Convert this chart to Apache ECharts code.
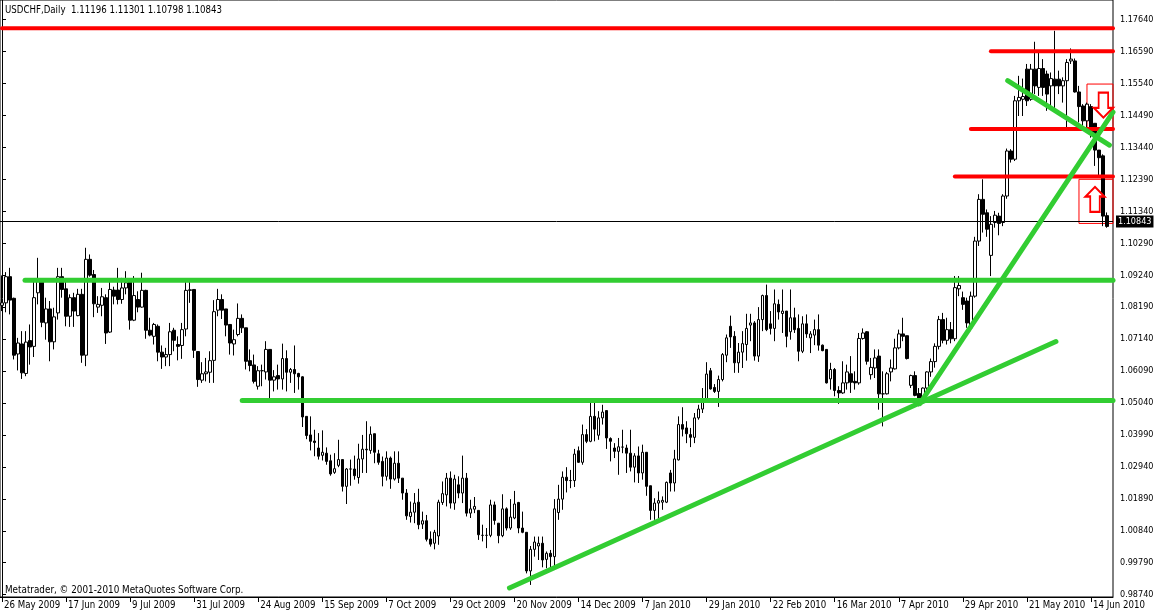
<!DOCTYPE html>
<html><head><meta charset="utf-8">
<script src="https://cdn.jsdelivr.net/npm/echarts@6/dist/echarts.min.js"></script>
<style>html,body{margin:0;padding:0;background:#fff}#c{width:1154px;height:616px}</style>
</head><body><div id="c"></div>
<script>
// ---------- DATA ----------
const symbolTitle = 'USDCHF,Daily';
const headerValues = ['1.11196', '1.11301', '1.10798', '1.10843'];
const copyrightText = 'Metatrader, \u00a9 2001-2010 MetaQuotes Software Corp.';
const startDate = '2009-05-26';
const skippedDays = ['2009-12-25', '2010-01-01'];
const slotCount = 278;          // bar slots on the time axis
const labelEvery = 16;          // a date label every 16 bars
const yTicks = [1.17640, 1.16590, 1.15540, 1.14490, 1.13440, 1.12390, 1.11340, 1.10290, 1.09240,
  1.08190, 1.07140, 1.06090, 1.05040, 1.03990, 1.02940, 1.01890, 1.00840, 0.99790, 0.98740];
const lastPrice = 1.10843;

// daily bars: [open, high, low, close]
const ohlc = [
[1.0825,1.0923,1.0806,1.0833],[1.0833,1.0934,1.0802,1.0919],[1.0919,1.0948,1.0795,1.0842],[1.0848,1.0850,1.0647,1.0661],
[1.0665,1.0718,1.0611,1.0701],[1.0698,1.0740,1.0583,1.0603],[1.0601,1.0740,1.0592,1.0704],[1.0709,1.0762,1.0630,1.0688],
[1.0690,1.0902,1.0655,1.0850],[1.0866,1.0981,1.0828,1.0910],[1.0905,1.0910,1.0753,1.0769],[1.0767,1.0850,1.0712,1.0813],
[1.0813,1.0839,1.0641,1.0705],[1.0705,1.0817,1.0680,1.0787],[1.0800,1.0948,1.0778,1.0919],[1.0919,1.0948,1.0850,1.0877],
[1.0879,1.0910,1.0756,1.0789],[1.0789,1.0861,1.0754,1.0850],[1.0850,1.0866,1.0754,1.0806],[1.0791,1.0879,1.0789,1.0861],
[1.0861,1.0879,1.0636,1.0661],[1.0661,1.1014,1.0625,1.0976],[1.0976,1.0992,1.0919,1.0924],[1.0926,1.0941,1.0786,1.0830],
[1.0819,1.0855,1.0800,1.0828],[1.0825,1.0882,1.0789,1.0853],[1.0850,1.0861,1.0698,1.0734],[1.0737,1.0910,1.0734,1.0877],
[1.0875,1.0886,1.0828,1.0855],[1.0875,1.0948,1.0828,1.0844],[1.0844,1.0915,1.0830,1.0882],[1.0882,1.0937,1.0861,1.0899],
[1.0904,1.0910,1.0745,1.0776],[1.0776,1.0921,1.0773,1.0857],[1.0844,1.0871,1.0802,1.0819],[1.0819,1.0932,1.0817,1.0874],
[1.0874,1.0876,1.0715,1.0743],[1.0743,1.0784,1.0723,1.0727],[1.0723,1.0767,1.0696,1.0762],[1.0756,1.0762,1.0641,1.0671],
[1.0671,1.0693,1.0616,1.0655],[1.0655,1.0685,1.0625,1.0663],[1.0663,1.0767,1.0625,1.0738],[1.0743,1.0751,1.0674,1.0710],
[1.0696,1.0723,1.0644,1.0690],[1.0693,1.0767,1.0649,1.0745],[1.0747,1.0901,1.0723,1.0874],[1.0874,1.0910,1.0833,1.0876],
[1.0877,1.0877,1.0652,1.0677],[1.0673,1.0673,1.0557,1.0581],[1.0579,1.0638,1.0570,1.0600],[1.0600,1.0652,1.0575,1.0606],
[1.0605,1.0674,1.0570,1.0643],[1.0644,1.0842,1.0570,1.0804],[1.0809,1.0879,1.0789,1.0844],[1.0844,1.0861,1.0780,1.0809],
[1.0813,1.0813,1.0723,1.0760],[1.0762,1.0762,1.0663,1.0701],[1.0698,1.0745,1.0660,1.0712],[1.0729,1.0831,1.0723,1.0782],
[1.0782,1.0795,1.0734,1.0751],[1.0751,1.0751,1.0614,1.0641],[1.0643,1.0680,1.0608,1.0627],[1.0629,1.0663,1.0568,1.0575],
[1.0559,1.0625,1.0548,1.0610],[1.0610,1.0630,1.0559,1.0610],[1.0606,1.0707,1.0581,1.0680],[1.0680,1.0680,1.0520,1.0579],
[1.0579,1.0612,1.0542,1.0590],[1.0594,1.0630,1.0548,1.0583],[1.0583,1.0699,1.0548,1.0650],[1.0650,1.0677,1.0542,1.0605],
[1.0605,1.0619,1.0570,1.0614],[1.0614,1.0693,1.0537,1.0600],[1.0601,1.0603,1.0548,1.0590],[1.0590,1.0592,1.0425,1.0458],
[1.0460,1.0460,1.0385,1.0397],[1.0399,1.0460,1.0348,1.0378],[1.0379,1.0416,1.0329,1.0374],[1.0356,1.0405,1.0318,1.0329],
[1.0332,1.0414,1.0315,1.0342],[1.0339,1.0358,1.0301,1.0312],[1.0314,1.0334,1.0265,1.0271],[1.0276,1.0339,1.0271,1.0288],
[1.0299,1.0383,1.0293,1.0318],[1.0318,1.0318,1.0213,1.0230],[1.0230,1.0290,1.0172,1.0287],[1.0287,1.0318,1.0232,1.0287],
[1.0287,1.0331,1.0252,1.0265],[1.0259,1.0370,1.0239,1.0320],[1.0320,1.0399,1.0274,1.0352],[1.0352,1.0444,1.0274,1.0350],
[1.0348,1.0427,1.0337,1.0401],[1.0403,1.0403,1.0306,1.0342],[1.0337,1.0350,1.0301,1.0309],[1.0312,1.0328,1.0230,1.0263],
[1.0263,1.0345,1.0249,1.0323],[1.0323,1.0328,1.0222,1.0254],[1.0254,1.0345,1.0249,1.0306],[1.0306,1.0345,1.0241,1.0257],
[1.0257,1.0257,1.0186,1.0208],[1.0208,1.0221,1.0120,1.0133],[1.0131,1.0180,1.0111,1.0145],[1.0145,1.0208,1.0109,1.0175],
[1.0178,1.0222,1.0089,1.0104],[1.0106,1.0147,1.0090,1.0117],[1.0117,1.0136,1.0049,1.0056],[1.0057,1.0082,1.0032,1.0040],
[1.0043,1.0087,1.0023,1.0079],[1.0067,1.0186,1.0038,1.0178],[1.0177,1.0246,1.0169,1.0206],[1.0202,1.0274,1.0164,1.0257],
[1.0257,1.0279,1.0157,1.0175],[1.0175,1.0268,1.0153,1.0254],[1.0235,1.0263,1.0191,1.0208],[1.0208,1.0331,1.0175,1.0257],
[1.0257,1.0274,1.0131,1.0142],[1.0142,1.0186,1.0126,1.0156],[1.0155,1.0195,1.0142,1.0164],[1.0151,1.0151,1.0054,1.0071],
[1.0069,1.0104,1.0049,1.0069],[1.0069,1.0093,1.0027,1.0069],[1.0069,1.0186,1.0063,1.0169],[1.0169,1.0180,1.0104,1.0118],
[1.0109,1.0109,1.0043,1.0068],[1.0068,1.0204,1.0063,1.0156],[1.0156,1.0161,1.0085,1.0093],[1.0093,1.0188,1.0087,1.0129],
[1.0126,1.0215,1.0122,1.0172],[1.0177,1.0179,1.0076,1.0093],[1.0093,1.0147,1.0076,1.0079],[1.0079,1.0079,0.9944,0.9952],
[0.9952,1.0034,0.9906,1.0023],[1.0023,1.0065,0.9999,1.0047],[1.0034,1.0065,0.9988,1.0043],[1.0043,1.0065,0.9964,0.9988],
[0.9990,1.0016,0.9961,1.0010],[1.0010,1.0021,0.9950,0.9999],[0.9999,1.0188,0.9958,1.0156],[1.0144,1.0235,1.0120,1.0188],
[1.0188,1.0279,1.0153,1.0260],[1.0260,1.0293,1.0210,1.0249],[1.0249,1.0284,1.0224,1.0249],[1.0249,1.0353,1.0228,1.0336],
[1.0347,1.0361,1.0307,1.0309],[1.0309,1.0433,1.0301,1.0400],[1.0400,1.0418,1.0372,1.0378],[1.0378,1.0504,1.0375,1.0460],
[1.0460,1.0504,1.0378,1.0418],[1.0398,1.0477,1.0383,1.0455],[1.0455,1.0498,1.0433,1.0474],[1.0479,1.0479,1.0353,1.0389],
[1.0387,1.0391,1.0312,1.0378],[1.0356,1.0372,1.0323,1.0345],[1.0345,1.0389,1.0268,1.0360],[1.0359,1.0416,1.0339,1.0359],
[1.0356,1.0367,1.0274,1.0339],[1.0339,1.0416,1.0279,1.0293],[1.0293,1.0339,1.0243,1.0330],[1.0330,1.0361,1.0241,1.0274],
[1.0274,1.0367,1.0252,1.0342],[1.0342,1.0342,1.0199,1.0230],[1.0232,1.0232,1.0120,1.0151],[1.0151,1.0191,1.0120,1.0175],
[1.0175,1.0213,1.0125,1.0183],[1.0178,1.0197,1.0153,1.0184],[1.0178,1.0246,1.0175,1.0243],[1.0274,1.0284,1.0213,1.0241],
[1.0241,1.0350,1.0213,1.0320],[1.0317,1.0460,1.0315,1.0433],[1.0433,1.0490,1.0394,1.0418],[1.0422,1.0444,1.0372,1.0403],
[1.0400,1.0422,1.0359,1.0391],[1.0391,1.0471,1.0372,1.0455],[1.0455,1.0498,1.0449,1.0484],[1.0484,1.0553,1.0471,1.0515],
[1.0515,1.0638,1.0509,1.0599],[1.0610,1.0619,1.0548,1.0550],[1.0555,1.0566,1.0537,1.0542],[1.0542,1.0594,1.0491,1.0581],
[1.0581,1.0668,1.0575,1.0663],[1.0661,1.0729,1.0638,1.0718],[1.0756,1.0791,1.0685,1.0721],[1.0723,1.0740,1.0603,1.0636],
[1.0636,1.0701,1.0603,1.0671],[1.0671,1.0740,1.0619,1.0699],[1.0696,1.0797,1.0643,1.0749],[1.0760,1.0797,1.0707,1.0767],
[1.0767,1.0773,1.0643,1.0658],[1.0658,1.0819,1.0639,1.0778],[1.0778,1.0860,1.0740,1.0857],[1.0857,1.0893,1.0740,1.0745],
[1.0764,1.0806,1.0729,1.0749],[1.0749,1.0877,1.0707,1.0830],[1.0828,1.0844,1.0778,1.0803],[1.0798,1.0877,1.0734,1.0806],
[1.0806,1.0806,1.0687,1.0723],[1.0738,1.0877,1.0712,1.0784],[1.0784,1.0817,1.0734,1.0745],[1.0749,1.0795,1.0641,1.0674],
[1.0674,1.0789,1.0668,1.0764],[1.0764,1.0795,1.0718,1.0731],[1.0718,1.0740,1.0668,1.0731],[1.0727,1.0778,1.0694,1.0745],
[1.0745,1.0795,1.0676,1.0694],[1.0694,1.0696,1.0674,1.0676],[1.0680,1.0680,1.0568,1.0570],[1.0583,1.0636,1.0548,1.0614],
[1.0614,1.0619,1.0526,1.0545],[1.0545,1.0559,1.0501,1.0537],[1.0537,1.0641,1.0534,1.0570],[1.0570,1.0630,1.0548,1.0606],
[1.0600,1.0658,1.0537,1.0572],[1.0575,1.0608,1.0548,1.0570],[1.0570,1.0734,1.0564,1.0716],[1.0716,1.0749,1.0712,1.0734],
[1.0738,1.0740,1.0630,1.0641],[1.0597,1.0652,1.0581,1.0621],[1.0619,1.0680,1.0586,1.0652],[1.0658,1.0680,1.0482,1.0534],
[1.0534,1.0608,1.0427,1.0534],[1.0534,1.0606,1.0532,1.0600],[1.0606,1.0647,1.0575,1.0619],[1.0616,1.0715,1.0614,1.0685],
[1.0685,1.0745,1.0680,1.0731],[1.0731,1.0784,1.0707,1.0723],[1.0725,1.0725,1.0647,1.0650],[1.0562,1.0597,1.0553,1.0594],
[1.0594,1.0608,1.0526,1.0529],[1.0535,1.0553,1.0493,1.0509],[1.0509,1.0555,1.0504,1.0553],[1.0553,1.0608,1.0542,1.0606],
[1.0606,1.0650,1.0590,1.0640],[1.0640,1.0700,1.0620,1.0690],[1.0690,1.0790,1.0680,1.0778],[1.0778,1.0800,1.0700,1.0710],
[1.0710,1.0784,1.0696,1.0745],[1.0745,1.0770,1.0700,1.0715],[1.0715,1.0921,1.0707,1.0883],[1.0879,1.0921,1.0855,1.0890],
[1.0850,1.0870,1.0810,1.0828],[1.0839,1.0850,1.0751,1.0767],[1.0751,1.0870,1.0740,1.0855],[1.0855,1.1050,1.0850,1.1036],
[1.1036,1.1190,1.1020,1.1173],[1.1173,1.1239,1.1064,1.1124],[1.1129,1.1140,1.1050,1.1075],[1.0989,1.1118,1.0921,1.1091],
[1.1097,1.1135,1.1080,1.1121],[1.1118,1.1129,1.1055,1.1094],[1.1097,1.1190,1.1085,1.1184],[1.1184,1.1340,1.1175,1.1332],
[1.1332,1.1338,1.1294,1.1305],[1.1305,1.1513,1.1299,1.1497],[1.1497,1.1579,1.1447,1.1508],[1.1502,1.1570,1.1447,1.1511],
[1.1601,1.1618,1.1480,1.1497],[1.1502,1.1618,1.1497,1.1601],[1.1601,1.1691,1.1519,1.1546],[1.1541,1.1656,1.1513,1.1603],
[1.1603,1.1634,1.1513,1.1541],[1.1585,1.1596,1.1464,1.1519],[1.1546,1.1590,1.1470,1.1570],[1.1568,1.1727,1.1464,1.1546],
[1.1568,1.1596,1.1519,1.1546],[1.1546,1.1574,1.1491,1.1563],[1.1563,1.1634,1.1409,1.1623],[1.1628,1.1669,1.1618,1.1634],
[1.1628,1.1636,1.1524,1.1526],[1.1526,1.1546,1.1426,1.1478],[1.1480,1.1486,1.1398,1.1431],[1.1431,1.1491,1.1398,1.1486],
[1.1478,1.1486,1.1376,1.1393],[1.1423,1.1423,1.1283,1.1335],[1.1335,1.1335,1.1245,1.1310],[1.1316,1.1321,1.1085,1.1118],
[1.11196,1.11301,1.10798,1.10843]
];

// drawn objects, in (bar index, price)
const redLevels = [[0, 1.1735], [247, 1.1660], [242, 1.1404], [238, 1.1248]];       // [start bar, price]
const greenLevels = [[5.75, 1.0907], [60, 1.0512]];
const greenTrends = [[126.75, 0.9896, 263.25, 1.0706], [229.25, 1.0502, 277.5, 1.1460], [251.2, 1.1563, 276.6, 1.1351]];
const redBoxes = [[271, 1.1552, 1.1404], [269, 1.1239, 1.1094]];                    // [start bar, top, bottom]
const redArrows = [[275.1, 1.1483, 'down'], [273.0, 1.1173, 'up']];

// ---------- BUILD ----------
const MONTHS = ['Jan','Feb','Mar','Apr','May','Jun','Jul','Aug','Sep','Oct','Nov','Dec'];
function tradingDays(start, n) {
  const out = [];
  const d = new Date(start + 'T00:00:00Z');
  while (out.length < n) {
    const wd = d.getUTCDay();
    const iso = d.toISOString().slice(0, 10);
    if (wd !== 0 && wd !== 6 && skippedDays.indexOf(iso) < 0) {
      out.push(d.getUTCDate() + ' ' + MONTHS[d.getUTCMonth()] + ' ' + d.getUTCFullYear());
    }
    d.setUTCDate(d.getUTCDate() + 1);
  }
  return out;
}
const cats = tradingDays(startDate, slotCount);
const candleData = ohlc.map(r => [r[0], r[3], r[2], r[1]]);
const FONT = "'Liberation Sans Narrow','DejaVu Sans Condensed','DejaVu Sans',sans-serif";
const FS = 9.6;
const FSY = 9;
const yMax = 1.18282, yMin = 0.98664;
const xEnd = slotCount - 0.5;
const showLbl = (idx) => idx % labelEvery === 0;

const lineSeries = [];
redLevels.forEach(l => lineSeries.push({
  type: 'line', xAxisIndex: 1, symbol: 'none', silent: true, z: 5,
  data: [[l[0], l[1]], [xEnd, l[1]]],
  lineStyle: { color: '#ff0000', width: 4, cap: 'round' }
}));
greenLevels.forEach(l => lineSeries.push({
  type: 'line', xAxisIndex: 1, symbol: 'none', silent: true, z: 5,
  data: [[l[0], l[1]], [xEnd, l[1]]],
  lineStyle: { color: '#32cd32', width: 5, cap: 'round' }
}));
greenTrends.forEach(t => lineSeries.push({
  type: 'line', xAxisIndex: 1, symbol: 'none', silent: true, z: 5,
  data: [[t[0], t[1]], [t[2], t[3]]],
  lineStyle: { color: '#32cd32', width: 5, cap: 'round' }
}));

const UP = 'path://M10,0 L20,10 L15,10 L15,26 L5,26 L5,10 L0,10 Z';
const DOWN = 'path://M5,0 L15,0 L15,16 L20,16 L10,26 L0,16 L5,16 Z';

const option = {
  animation: false,
  backgroundColor: '#fff',
  grid: { left: 0, top: 0, width: 1113, height: 597, show: true, borderColor: '#000', borderWidth: 1,
          backgroundColor: '#fff', containLabel: false, outerBoundsMode: 'none' },
  xAxis: [{
    type: 'category', data: cats, boundaryGap: true, position: 'bottom',
    axisLine: { show: true, lineStyle: { color: '#000', width: 1 } },
    axisTick: { show: true, alignWithLabel: true, interval: showLbl, length: 5, lineStyle: { color: '#000' } },
    axisLabel: { interval: showLbl, align: 'left', margin: 3, color: '#000', fontFamily: FONT, fontSize: FS, padding: [0, 0, 0, 2], hideOverlap: false },
    splitLine: { show: false }
  }, {
    type: 'value', min: -0.5, max: xEnd, show: false
  }],
  yAxis: [{
    type: 'value', position: 'right', min: yMin, max: yMax,
    axisLine: { show: true, lineStyle: { color: '#000', width: 1 } },
    axisTick: { show: true, length: 4, customValues: yTicks, lineStyle: { color: '#000' } },
    axisLabel: { customValues: yTicks, formatter: v => v.toFixed(5), margin: 7, color: '#000', fontFamily: FONT, fontSize: FSY },
    splitLine: { show: false }
  }],
  series: [{
    type: 'candlestick', data: candleData, barWidth: 3, z: 3,
    itemStyle: { color: '#ffffff', color0: '#000000', borderColor: '#000000', borderColor0: '#000000', borderWidth: 1 },
    markLine: {
      silent: true, symbol: ['none', 'none'], animation: false,
      data: [{ yAxis: lastPrice }],
      lineStyle: { color: '#000', width: 1, type: 'solid' },
      label: { show: true, position: 'end', formatter: lastPrice.toFixed(5), backgroundColor: '#000', color: '#fff',
               padding: [2, 2, 1, 2], distance: 3, fontFamily: FONT, fontSize: FSY }
    }
  }].concat(lineSeries).concat([{
    type: 'line', xAxisIndex: 1, data: [], silent: true, z: 6,
    markArea: {
      silent: true,
      itemStyle: { color: 'rgba(0,0,0,0)', borderColor: '#ff0000', borderWidth: 1 },
      data: redBoxes.map(b => [{ coord: [b[0], b[1]] }, { coord: [xEnd, b[2]] }])
    }
  }, {
    type: 'scatter', xAxisIndex: 1, silent: true, z: 7,
    data: redArrows.map(a => ({ value: [a[0], a[1]], symbol: a[2] === 'up' ? UP : DOWN })),
    symbolSize: [19, 25],
    itemStyle: { color: '#ffffff', borderColor: '#ff0000', borderWidth: 2, opacity: 1 }
  }]),
  graphic: [
    { type: 'text', left: 5, top: 5, z: 100, style: { text: symbolTitle + '  ' + headerValues.join(' '), fill: '#000', font: FS + 'px ' + FONT } },
    { type: 'text', left: 5, top: 585, z: 100, style: { text: copyrightText, fill: '#000', font: '9.8px ' + FONT } }
  ]
};
const chart = echarts.init(document.getElementById('c'), null, { renderer: 'canvas' });
chart.setOption(option);
</script>
</body></html>
